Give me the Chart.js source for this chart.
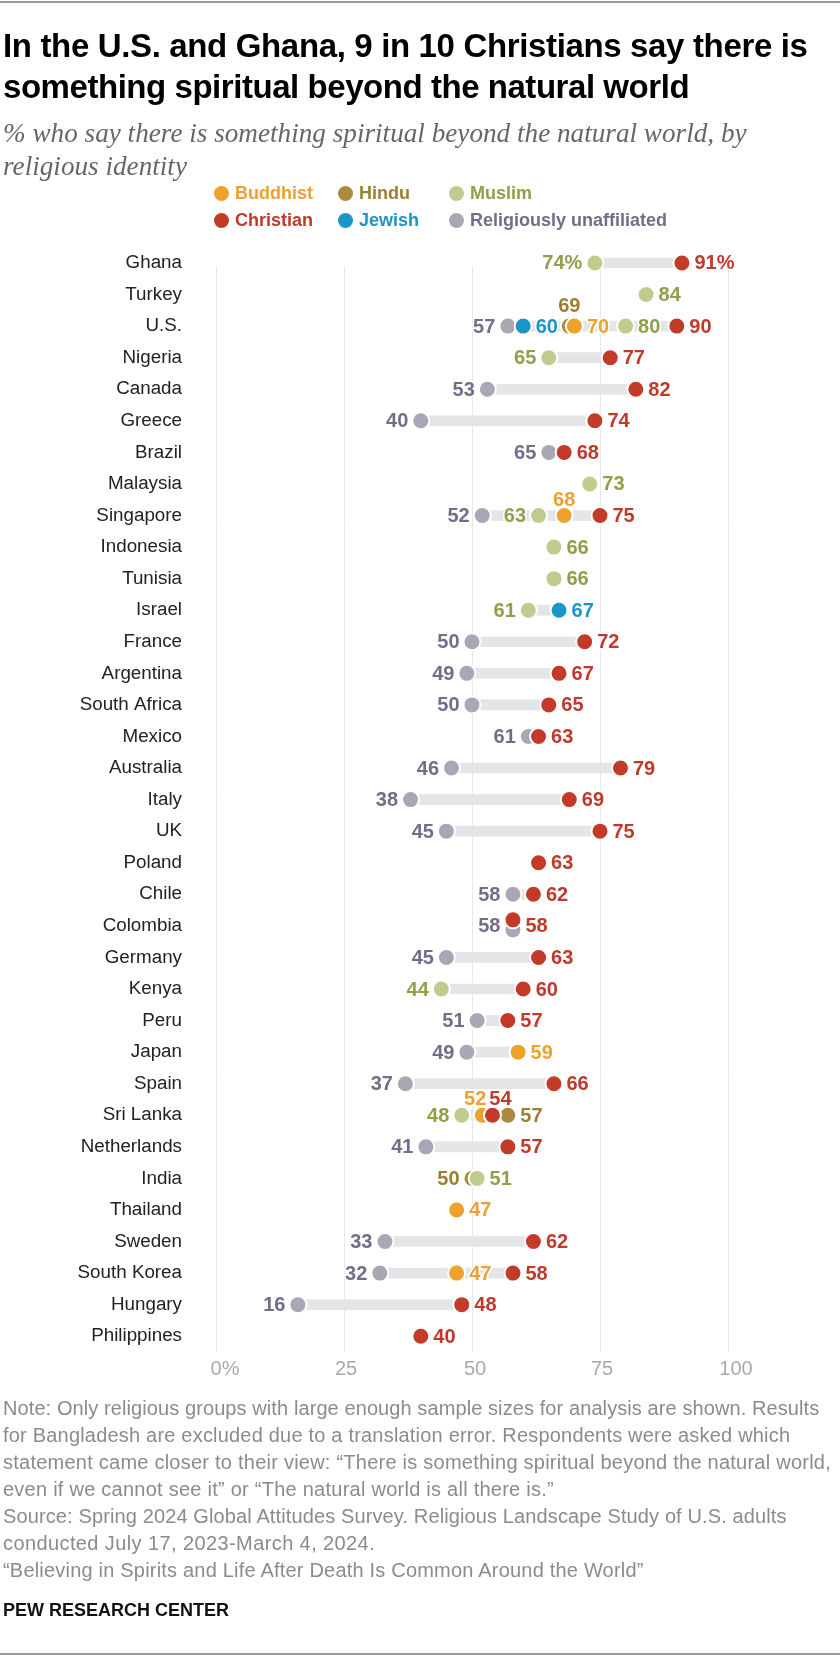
<!DOCTYPE html>
<html><head><meta charset="utf-8">
<script src="https://cdn.jsdelivr.net/npm/chart.js@4"></script>
<style>
html,body{margin:0;padding:0;background:#fff;width:840px;height:1656px;overflow:hidden}
#wrap{position:relative;width:840px;height:1656px}
canvas{position:absolute;left:0;top:0}
.t{position:absolute;white-space:nowrap}
.title{left:3px;font:bold 33px/41px "Liberation Sans";color:#000;letter-spacing:-.45px}
.sub{left:3px;font:italic 27.2px/32px "Liberation Serif";color:#666}
.note{left:3px;font:20px/27px "Liberation Sans";color:#8b8b8b;letter-spacing:.15px}
.lg{font:bold 18px/20px "Liberation Sans"}
.dot{position:absolute;width:15px;height:15px;border-radius:50%}
.rule{position:absolute;left:0;width:840px;height:2px;background:#999}
</style></head><body><div id="wrap">
<canvas id="c" width="840" height="1656" style="width:840px;height:1656px"></canvas>
<div class="rule" style="top:1px"></div><div class="rule" style="top:1653px"></div>
<div class="t title" style="top:25px;letter-spacing:-.35px">In the U.S. and Ghana, 9 in 10 Christians say there is</div>
<div class="t title" style="top:66px">something spiritual beyond the natural world</div>
<div class="t sub" style="top:117px">% who say there is something spiritual beyond the natural world, by</div>
<div class="t sub" style="top:150px">religious identity</div>
<div id="legend"></div>
<div class="t note" style="top:1395px;letter-spacing:.09px">Note: Only religious groups with large enough sample sizes for analysis are shown. Results</div>
<div class="t note" style="top:1422px;letter-spacing:.2px">for Bangladesh are excluded due to a translation error. Respondents were asked which</div>
<div class="t note" style="top:1449px;letter-spacing:.24px">statement came closer to their view: “There is something spiritual beyond the natural world,</div>
<div class="t note" style="top:1476px;letter-spacing:.25px">even if we cannot see it” or “The natural world is all there is.”</div>
<div class="t note" style="top:1503px;letter-spacing:.12px">Source: Spring 2024 Global Attitudes Survey. Religious Landscape Study of U.S. adults</div>
<div class="t note" style="top:1530px;letter-spacing:.4px">conducted July 17, 2023-March 4, 2024.</div>
<div class="t note" style="top:1557px;letter-spacing:.2px">“Believing in Spirits and Life After Death Is Common Around the World”</div>
<div class="t" style="left:3px;top:1600px;font:bold 18px/20px 'Liberation Sans';color:#111">PEW RESEARCH CENTER</div>
</div>
<script>
const countries=["Ghana","Turkey","U.S.","Nigeria","Canada","Greece","Brazil","Malaysia","Singapore","Indonesia","Tunisia","Israel","France","Argentina","South Africa","Mexico","Australia","Italy","UK","Poland","Chile","Colombia","Germany","Kenya","Peru","Japan","Spain","Sri Lanka","Netherlands","India","Thailand","Sweden","South Korea","Hungary","Philippines"];
const n=null;
const unaffiliated=[n,n,57,n,53,40,65,n,52,n,n,n,50,49,50,61,46,38,45,n,58,58,45,n,51,49,37,n,41,n,n,33,32,16,n];
const hindu=[n,n,69,n,n,n,n,n,n,n,n,n,n,n,n,n,n,n,n,n,n,n,n,n,n,n,n,57,n,50,n,n,n,n,n];
const buddhist=[n,n,70,n,n,n,n,n,68,n,n,n,n,n,n,n,n,n,n,n,n,n,n,n,n,59,n,52,n,n,47,n,47,n,n];
const muslim=[74,84,80,65,n,n,n,73,63,66,66,61,n,n,n,n,n,n,n,n,n,n,n,44,n,n,n,48,n,51,n,n,n,n,n];
const jewish=[n,n,60,n,n,n,n,n,n,n,n,67,n,n,n,n,n,n,n,n,n,n,n,n,n,n,n,n,n,n,n,n,n,n,n];
const christian=[91,n,90,77,82,74,68,n,75,n,n,n,72,67,65,63,79,69,75,63,62,58,63,60,57,n,66,54,57,n,n,62,58,48,40];
const xTicks=[0,25,50,75,100];
const seriesDefs=[
 {name:"Religiously unaffiliated",values:unaffiliated,dot:"#ABA6B5",text:"#756C8A",side:"left"},
 {name:"Hindu",values:hindu,dot:"#A88B3E",text:"#9C7F30",side:"right"},
 {name:"Buddhist",values:buddhist,dot:"#EFA12D",text:"#F0A030",side:"right"},
 {name:"Muslim",values:muslim,dot:"#BFCC8E",text:"#8FA04A",side:"left"},
 {name:"Jewish",values:jewish,dot:"#1C95C8",text:"#1D94C6",side:"right"},
 {name:"Christian",values:christian,dot:"#C23A28",text:"#C0392B",side:"right"}
];
// label placement exceptions: [side, dx, dy]
const place={
 "Turkey|Muslim":["right"],"Malaysia|Muslim":["right"],"Indonesia|Muslim":["right"],"Tunisia|Muslim":["right"],"India|Muslim":["right"],"U.S.|Muslim":["right"],
 "U.S.|Hindu":["top",0,-21],"Singapore|Buddhist":["top",0,-16],
 "Sri Lanka|Buddhist":["top",-7,-17],"Sri Lanka|Christian":["top",8,-17],
 "India|Hindu":["left"]
};
const ranges=countries.map((c,i)=>{
 const v=seriesDefs.map(s=>s.values[i]).filter(x=>x!==null);
 return v.length>1?[Math.min(...v),Math.max(...v)]:null;
});
// legend
const legendLayout=[["Buddhist",221,193],["Hindu",345,193],["Muslim",456,193],["Christian",221,220],["Jewish",345,220],["Religiously unaffiliated",456,220]];
document.getElementById('legend').innerHTML=legendLayout.map(([nm,x,y])=>{
 const s=seriesDefs.find(d=>d.name===nm);
 return `<div class="dot" style="left:${x-7.5}px;top:${y-7.5}px;background:${s.dot}"></div><div class="t lg" style="left:${x+14}px;top:${y-10}px;color:${s.text}">${nm}</div>`;
}).join('');
const LABEL_FONT='bold 20px "Liberation Sans"';
const tickShift={0:9,25:2,50:3,75:2,100:8};
const colombiaShift={"Christian":-6,"Religiously unaffiliated":4};
const helper={
 id:'helper',
 afterDatasetsUpdate(ch){ // Colombia: the two coincident dots sit apart vertically
  const iC=countries.indexOf("Colombia");
  ch.data.datasets.forEach((d,k)=>{
   if(d.type!=='line'||!(d.label in colombiaShift))return;
   ch.getDatasetMeta(k).data[iC].y+=colombiaShift[d.label];
  });
 },
 beforeDraw(ch){
  const x=ch.scales.x;
  x.getLabelItems().forEach((it,i)=>{
   if(!it._moved){it.options.translation[0]+=tickShift[x.ticks[i].value]||0;it._moved=true;}
  });
 },
 beforeDatasetsDraw(ch){
  const a=ch.chartArea,c=ch.ctx;
  c.save();c.fillStyle='#fff';c.fillRect(a.left-2,a.top-1,a.width+4,20);c.restore();
 },
 afterDatasetsDraw(ch){
  const c=ch.ctx;c.save();c.font=LABEL_FONT;c.textBaseline='middle';c.lineJoin='round';
  const xs=ch.scales.x,ys=ch.scales.y;
  seriesDefs.forEach(s=>{
   s.values.forEach((v,i)=>{
    if(v===null)return;
    const p=place[countries[i]+"|"+s.name]||[];
    const side=p[0]||s.side;
    const px=xs.getPixelForValue(v),py=ys.getPixelForValue(countries[i]);
    const txt=v+(countries[i]==="Ghana"?"%":"");
    let tx,ty=py+1;
    if(side==="top"){c.textAlign='center';tx=px+(p[1]||0);ty=py+(p[2]||0)+1;}
    else if(side==="left"){c.textAlign='right';tx=px-12.5;}
    else{c.textAlign='left';tx=px+12.5;}
    c.strokeStyle='#fff';c.lineWidth=3;c.strokeText(txt,tx,ty);
    c.fillStyle=s.text;c.fillText(txt,tx,ty);
   });
  });
  c.restore();
 }
};
const datasets=[{type:'bar',label:'range',data:ranges,backgroundColor:'#E3E5E6',barThickness:10,order:100,borderWidth:0}];
seriesDefs.forEach((s,k)=>datasets.push({type:'line',label:s.name,data:s.values,showLine:false,indexAxis:'y',
 pointRadius:8.5,pointHoverRadius:8.5,pointBorderWidth:2,pointBorderColor:'#fff',pointBackgroundColor:s.dot,order:50-k,spanGaps:false,clip:false}));
new Chart(document.getElementById('c'),{
 type:'bar',
 data:{labels:countries,datasets},
 plugins:[helper],
 options:{
  indexAxis:'y',responsive:false,animation:false,devicePixelRatio:1,
  layout:{padding:{left:0,right:112,top:247.2,bottom:264}},
  plugins:{legend:{display:false},tooltip:{enabled:false}},
  scales:{
   x:{type:'linear',position:'bottom',min:0,max:100,
    afterBuildTicks(s){s.ticks=xTicks.map(v=>({value:v}));},
    afterFit(s){s.height=40;},
    border:{display:false},
    grid:{color:'#E8E8EA',lineWidth:1,drawTicks:false},
    ticks:{callback:v=>v===0?'0%':String(v),color:'#A9A9A9',font:{family:'Liberation Sans',size:20},padding:5,maxRotation:0}},
   y:{type:'category',offset:true,position:'left',
    afterFit(s){s.width=216;},
    border:{display:false},grid:{display:false,drawTicks:false},
    ticks:{autoSkip:false,color:'#222',font:{family:'Liberation Sans',size:18.8},padding:34}}
  }
 }
});
</script></body></html>
